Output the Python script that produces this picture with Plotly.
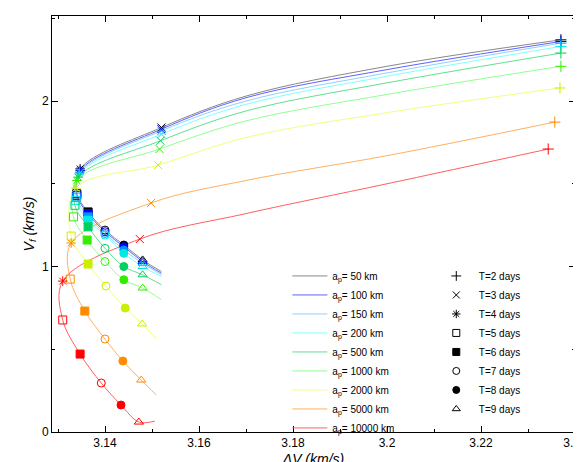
import plotly.graph_objects as go

# a_p values and colours
ap_km = [50, 100, 150, 200, 500, 1000, 2000, 5000, 10000]
marker_colors = ["#000000", "#0000ff", "#0090ff", "#00e8e8", "#00d060",
                 "#33ee00", "#ccee00", "#ff8c00", "#ff0000"]
line_colors = ["#888888", "#6060ff", "#90d0ff", "#80ffff", "#60e090",
               "#90ff90", "#f0ff80", "#ffb060", "#ff6060"]

# marker points, T = 2..9 days  (dV, Vf)
dv_T = {
    50:    [3.2370, 3.1520, 3.1347, 3.1340, 3.1364, 3.1400, 3.1440, 3.1480],
    100:   [3.2370, 3.1520, 3.1347, 3.1340, 3.1364, 3.1400, 3.1440, 3.1480],
    150:   [3.2370, 3.1520, 3.1346, 3.1339, 3.1364, 3.1400, 3.1440, 3.1480],
    200:   [3.2370, 3.1520, 3.1345, 3.1338, 3.1364, 3.1400, 3.1440, 3.1480],
    500:   [3.2370, 3.1518, 3.1343, 3.1336, 3.1364, 3.1400, 3.1440, 3.1480],
    1000:  [3.2370, 3.1516, 3.1340, 3.1333, 3.1362, 3.1400, 3.1440, 3.1480],
    2000:  [3.2368, 3.1513, 3.1338, 3.1328, 3.1364, 3.1402, 3.1443, 3.1479],
    5000:  [3.2357, 3.1498, 3.1328, 3.1326, 3.1357, 3.1400, 3.1438, 3.1477],
    10000: [3.2343, 3.1474, 3.1310, 3.1310, 3.1347, 3.1392, 3.1434, 3.1472],
}
vf_T = {
    50:    [2.37, 1.84, 1.59, 1.44, 1.33, 1.22, 1.13, 1.04],
    100:   [2.36, 1.83, 1.58, 1.43, 1.32, 1.21, 1.12, 1.03],
    150:   [2.35, 1.82, 1.57, 1.42, 1.30, 1.20, 1.10, 1.02],
    200:   [2.33, 1.80, 1.56, 1.40, 1.28, 1.19, 1.08, 1.00],
    500:   [2.29, 1.76, 1.54, 1.37, 1.24, 1.11, 1.00, 0.95],
    1000:  [2.21, 1.71, 1.52, 1.30, 1.16, 1.03, 0.92, 0.87],
    2000:  [2.079, 1.613, 1.474, 1.184, 1.015, 0.882, 0.749, 0.653],
    5000:  [1.873, 1.384, 1.142, 0.924, 0.731, 0.562, 0.429, 0.314],
    10000: [1.71, 1.166, 0.912, 0.677, 0.471, 0.296, 0.163, 0.060],
}
# extra points on each line: Vf at dV=3.20 and 3.17, and the line's end point
vf_at_320 = [2.21, 2.19, 2.17, 2.15, 2.11, 2.04, 1.93, 1.67, 1.50]
vf_at_317 = [2.03, 2.02, 2.00, 1.98, 1.94, 1.88, 1.78, 1.52, 1.32]
end_dv = [3.152, 3.152, 3.152, 3.152, 3.152, 3.152, 3.151, 3.1509, 3.1506]
end_vf = [0.97, 0.96, 0.95, 0.94, 0.89, 0.80, 0.562, 0.224, 0.066]

T_days = [2, 3, 4, 5, 6, 7, 8, 9]
symbols = ["cross-thin-open", "x-thin-open", "asterisk-open", "square-open",
           "square", "circle-open", "circle", "triangle-up-open"]

fig = go.Figure()

for i, ap in enumerate(ap_km):
    xs = [dv_T[ap][0], 3.20, 3.17] + dv_T[ap][1:] + [end_dv[i]]
    ys = [vf_T[ap][0], vf_at_320[i], vf_at_317[i]] + vf_T[ap][1:] + [end_vf[i]]
    fig.add_trace(go.Scatter(
        x=xs, y=ys, mode="lines", name=f"a<sub>p</sub>= {ap} km",
        line=dict(color=line_colors[i], width=1, shape="spline", smoothing=1.0),
        legend="legend"))

for i, ap in enumerate(ap_km):
    fig.add_trace(go.Scatter(
        x=dv_T[ap], y=vf_T[ap], mode="markers", showlegend=False,
        marker=dict(symbol=symbols, size=8, color=marker_colors[i],
                    line=dict(color=marker_colors[i], width=1))))

for t, s in zip(T_days, symbols):
    fig.add_trace(go.Scatter(
        x=[None], y=[None], mode="markers", name=f"T={t} days",
        marker=dict(symbol=s, size=7, color="#000000",
                    line=dict(color="#000000", width=1)),
        legend="legend2"))

axis_common = dict(showline=True, linecolor="black", linewidth=1, mirror="ticks",
                   ticks="inside", ticklen=6, tickcolor="black",
                   showgrid=False, zeroline=False,
                   minor=dict(ticks="inside", ticklen=3, tickcolor="black"))

fig.update_xaxes(range=[3.12872, 3.24], tickvals=[3.14, 3.16, 3.18, 3.2, 3.22, 3.24],
                 ticktext=["3.14", "3.16", "3.18", "3.2", "3.22", "3.24"],
                 minor_dtick=0.01, minor_tick0=3.14,
                 title=dict(text="<i>ΔV (km/s)</i>", standoff=4), **axis_common)
fig.update_yaxes(range=[0, 2.514], tickvals=[0, 1, 2], minor_dtick=0.5,
                 title=dict(text="<i>V<sub>f</sub> (km/s)</i>", standoff=4),
                 **axis_common)

legend_style = dict(bgcolor="rgba(0,0,0,0)", font=dict(size=10), tracegroupgap=0,
                    itemwidth=35, yanchor="top", xanchor="left")
fig.update_layout(
    width=581, height=462,
    margin=dict(l=44, r=14, t=8, b=38, autoexpand=False),
    paper_bgcolor="white", plot_bgcolor="white",
    font=dict(family="Liberation Sans, Arial, sans-serif", size=12, color="black"),
    legend=dict(x=0.45, y=0.41, **legend_style),
    legend2=dict(x=0.73, y=0.41, **legend_style),
)

fig.write_html("out.html")
